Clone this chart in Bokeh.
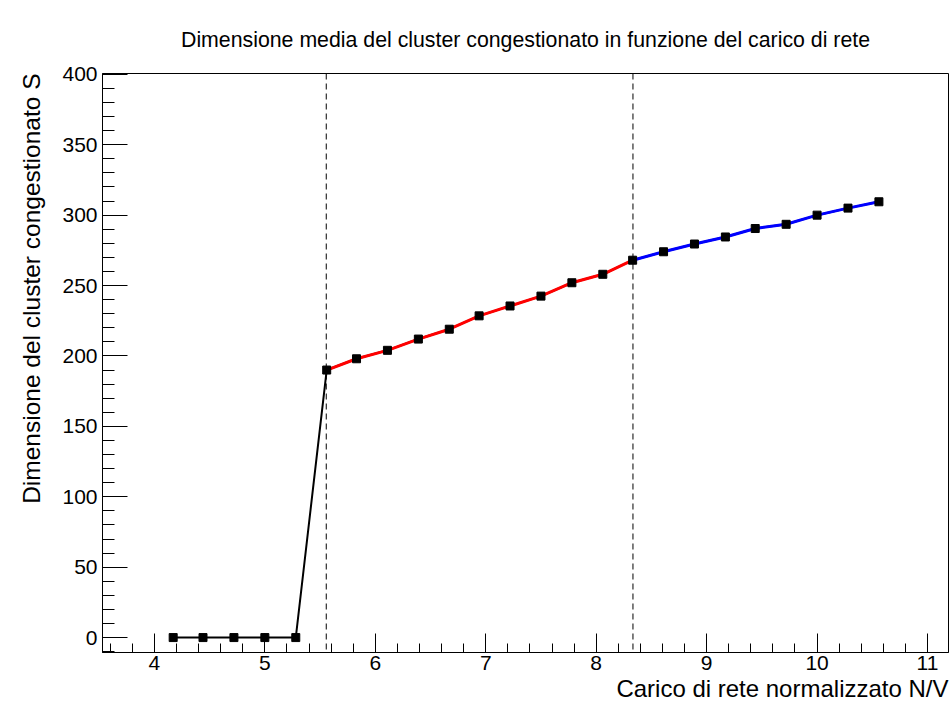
import numpy as np
from bokeh.plotting import figure
from bokeh.models import Range1d, FixedTicker, Span, ColumnDataSource, Title
from bokeh.embed import file_html
from bokeh.resources import INLINE

# ---- data ----
load = [4.17, 4.44, 4.72, 5.00, 5.28, 5.56, 5.83, 6.11, 6.39, 6.67, 6.94, 7.22,
        7.50, 7.78, 8.06, 8.33, 8.61, 8.89, 9.17, 9.44, 9.72, 10.00, 10.28, 10.56]
size = [0, 0, 0, 0, 0, 190, 198, 204, 212, 219, 228.5, 235.5,
        242.5, 252, 258, 268, 274, 279.5, 284.5, 290.5, 293.5, 300, 305, 309.5]
fit_bounds = [5.556, 8.333]           # dashed vertical lines / fit ranges
red_idx = list(range(5, 16))          # points in the first fit range
blue_idx = list(range(15, 24))        # points in the second fit range

x_ticks = [4, 5, 6, 7, 8, 9, 10, 11]
y_ticks = [0, 50, 100, 150, 200, 250, 300, 350, 400]

title_text = "Dimensione media del cluster congestionato in funzione del carico di rete"
x_title = "Carico di rete normalizzato N/V"
y_title = "Dimensione del cluster congestionato S"

FONT = "Liberation Sans"

p = figure(width=949, height=704, output_backend="svg", toolbar_location=None,
           x_range=Range1d(3.53, 11.19), y_range=Range1d(-10.6, 400.6),
           min_border_left=102, min_border_right=1, min_border_top=73,
           min_border_bottom=52)
p.title.text = title_text
p.title.align = "center"
p.title.text_font = FONT
p.title.text_font_size = "21.3px"
p.title.text_font_style = "normal"
p.title.text_color = "black"
p.title.standoff = 44

p.add_layout(Title(text=x_title, align="right", text_font=FONT,
                   text_font_size="24px", text_font_style="normal",
                   text_color="black", standoff=0), "below")
p.add_layout(Title(text=y_title, align="right", text_font=FONT,
                   text_font_size="24.5px", text_font_style="normal",
                   text_color="black", standoff=30), "left")

p.xgrid.visible = False
p.ygrid.visible = False
p.outline_line_color = "black"
p.outline_line_width = 1
p.background_fill_color = "white"
p.border_fill_color = "white"

# axes
p.xaxis.ticker = FixedTicker(ticks=x_ticks,
                             minor_ticks=list(np.round(np.arange(3.6, 11.2, 0.2), 2)))
p.yaxis.ticker = FixedTicker(ticks=y_ticks, minor_ticks=list(range(-10, 401, 10)))
for ax in (p.xaxis[0], p.yaxis[0]):
    ax.axis_line_color = "black"
    ax.axis_line_width = 1
    ax.major_tick_line_color = "black"
    ax.minor_tick_line_color = "black"
    ax.major_tick_out = 0
    ax.minor_tick_out = 0
    ax.major_label_text_font = FONT
    ax.major_label_text_font_size = "21px"
    ax.major_label_text_color = "black"
p.xaxis.major_tick_in = 19
p.xaxis.minor_tick_in = 9
p.yaxis.major_tick_in = 25
p.yaxis.minor_tick_in = 12
p.xaxis.major_label_standoff = 3
p.yaxis.major_label_standoff = 5

# dashed lines
for b in fit_bounds:
    p.add_layout(Span(location=b, dimension="height", line_color="black",
                      line_width=1, line_dash="6 4"))

src = ColumnDataSource(dict(x=load, y=size))
p.line("x", "y", source=src, line_color="black", line_width=2)
p.line([load[i] for i in red_idx], [size[i] for i in red_idx],
       line_color="red", line_width=3)
p.line([load[i] for i in blue_idx], [size[i] for i in blue_idx],
       line_color="blue", line_width=3)
p.scatter("x", "y", source=src, marker="square", size=8,
          fill_color="black", line_color="black")

open("out.html", "w").write(file_html(p, INLINE))
